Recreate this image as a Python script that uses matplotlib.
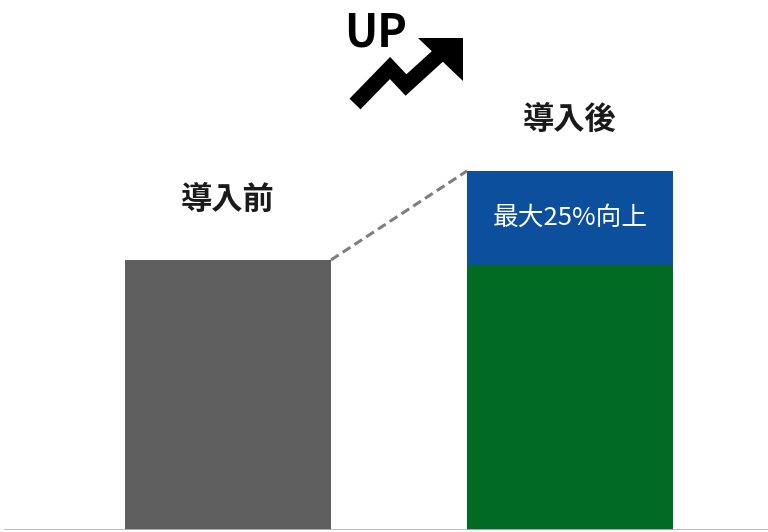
import matplotlib
matplotlib.use("Agg")
import matplotlib.pyplot as plt
from matplotlib.lines import Line2D
from matplotlib.patches import Polygon

plt.rcParams['font.family'] = ['Noto Sans CJK JP', 'DejaVu Sans']

# -----------------------------------------------------------------------------
# data
# -----------------------------------------------------------------------------
labels = ["導入前", "導入後"]
base_values = [100, 98]      # gray bar / green part
up_values = [0, 35]          # blue "up" part on top
up_label = "最大25%向上"

GRAY = "#5f5f5f"
GREEN = "#006b22"
BLUE = "#0c4f9c"

W, H = 768, 532
fig = plt.figure(figsize=(W / 100, H / 100), dpi=100)
ax = fig.add_axes([0, 2 / H, 1, 1 - 2 / H])
ax.set_xlim(-228 / 342, (W - 228) / 342)
ax.set_ylim(0, 530 / 2.7)
ax.axis("off")

x = [0, 1]
bw = 0.602
ax.bar(x[0], base_values[0], width=bw, color=GRAY, zorder=2)
ax.bar(x[1], base_values[1], width=bw, color=GREEN, zorder=2)
ax.bar(x[1], up_values[1], bottom=base_values[1], width=bw, color=BLUE, zorder=2)

tops = [base_values[i] + up_values[i] for i in range(2)]

# dashed connector between the bar tops
ax.plot([x[0] + bw / 2, x[1] - bw / 2], [tops[0], tops[1]],
        ls=(0, (3, 1.6)), color="#7f7f7f", lw=2.2, zorder=3)

# baseline
ax.axhline(0, xmin=5 / W, xmax=1, color="#b4b4b4", lw=2.0, zorder=4)

# bar labels
ax.annotate(labels[0], (x[0], tops[0]), xytext=(0, 43), textcoords="offset points",
            ha="center", va="center", fontsize=22.5, fontweight="bold", color="#1a1a1a")
ax.annotate(labels[1], (x[1], tops[1]), xytext=(0, 37), textcoords="offset points",
            ha="center", va="center", fontsize=22.5, fontweight="bold", color="#1a1a1a")
ax.text(x[1], base_values[1] + up_values[1] / 2, up_label, ha="center", va="center",
        fontsize=18.5, color="white", zorder=5)

# -----------------------------------------------------------------------------
# "UP" icon (pixel coords, top-left origin)
# -----------------------------------------------------------------------------
def fx(px):
    return px / W

def fy(py):
    return 1 - py / H

fig.text(fx(376), fy(28.5), "UP", ha="center", va="center_baseline", fontsize=32,
         fontweight="bold", color="black")

zig = [(355, 104), (390, 68), (406, 85), (440, 54)]
fig.add_artist(Line2D([fx(p[0]) for p in zig], [fy(p[1]) for p in zig],
                      transform=fig.transFigure, color="black", lw=11,
                      solid_joinstyle="miter", solid_capstyle="butt"))
head = [(418, 38), (463, 38), (463, 81)]
fig.add_artist(Polygon([(fx(p[0]), fy(p[1])) for p in head], closed=True,
                       transform=fig.transFigure, color="black", lw=0))

fig.savefig("out.png", dpi=100, facecolor="white")
